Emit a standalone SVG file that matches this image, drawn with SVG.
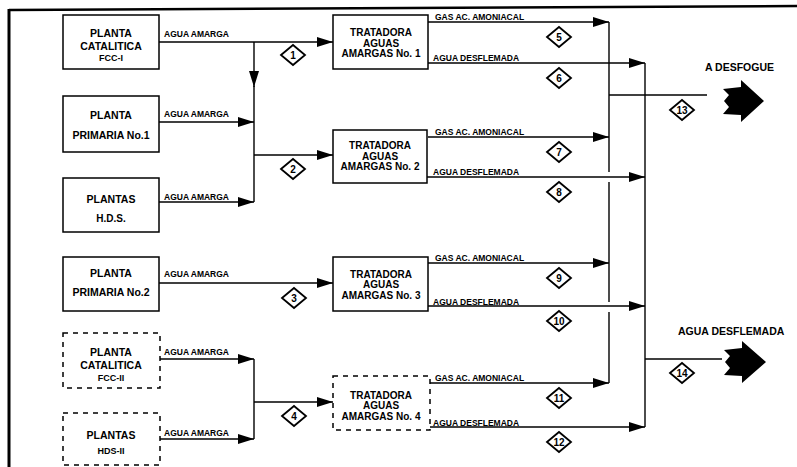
<svg xmlns="http://www.w3.org/2000/svg" width="797" height="467" viewBox="0 0 797 467">
<style>
.box{fill:#fff;stroke:#000;stroke-width:1.5}
.dbox{fill:#fff;stroke:#000;stroke-width:1.5;stroke-dasharray:5 5}
.ln{fill:none;stroke:#000;stroke-width:1.4}
.t{font-family:"Liberation Sans",Arial,sans-serif;font-weight:bold;fill:#000}
.n{font-size:10.5px;text-anchor:middle}
.tn{font-size:10px;text-anchor:middle}
.sm{font-size:9px;text-anchor:middle}
.s{font-size:8.5px}
.big{font-size:10.5px}
.d{fill:#fff;stroke:#000;stroke-width:1.8}
.dn{font-size:10px;text-anchor:middle}
</style>
<defs>
<marker id="ah" markerWidth="16" markerHeight="10" refX="16" refY="5" orient="auto" markerUnits="userSpaceOnUse"><path d="M0,0 L16,5 L0,10 Z" fill="#000"/></marker>
<path id="dia" d="M-12,0 L0,-10 L12,0 L0,10 Z"/>
</defs>
<rect width="797" height="467" fill="#fff"/>
<g id="frame">
<path d="M9,10 L797,6" stroke="#000" stroke-width="2.5" fill="none"/>
<path d="M9,9 L9,467" stroke="#000" stroke-width="3" fill="none"/>
</g>
<g id="connectors" class="ln">
<path d="M159,42 L333,42" marker-end="url(#ah)"/>
<path d="M254,42 L254,87" marker-end="url(#ah)"/>
<path d="M254,86 L254,202"/>
<path d="M159,122 L254,122" marker-end="url(#ah)"/>
<path d="M159,202 L254,202" marker-end="url(#ah)"/>
<path d="M254,155 L333,155" marker-end="url(#ah)"/>
<path d="M159,283 L333,283" marker-end="url(#ah)"/>
<path d="M160,359 L254,359" marker-end="url(#ah)"/>
<path d="M160,439 L254,439" marker-end="url(#ah)"/>
<path d="M254,359 L254,439"/>
<path d="M254,402 L333,402" marker-end="url(#ah)"/>
<path d="M428,22 L609,22" marker-end="url(#ah)"/>
<path d="M428,137 L609,137" marker-end="url(#ah)"/>
<path d="M428,263 L609,263" marker-end="url(#ah)"/>
<path d="M430,383 L609,383" marker-end="url(#ah)"/>
<path d="M428,63 L645,63" marker-end="url(#ah)"/>
<path d="M427,177 L645,177" marker-end="url(#ah)"/>
<path d="M428,306 L645,306" marker-end="url(#ah)"/>
<path d="M430,427 L645,427" marker-end="url(#ah)"/>
<path d="M609,22 L609,172 M609,182 L609,302 M609,312 L609,383"/>
<path d="M645,63 L645,427"/>
<path d="M609,95 L707,95"/>
<path d="M645,359 L722,359"/>
</g>
<g id="n1"><rect class="box" x="63" y="15" width="96" height="54"/>
<text class="t n" x="111" y="37">PLANTA</text><text class="t n" x="111" y="50">CATALITICA</text><text class="t sm" x="111" y="61">FCC-I</text></g>
<g id="n2"><rect class="box" x="63" y="96" width="96" height="56"/>
<text class="t n" x="111" y="119">PLANTA</text><text class="t n" x="111" y="139">PRIMARIA No.1</text></g>
<g id="n3"><rect class="box" x="63" y="178" width="96" height="54"/>
<text class="t n" x="111" y="203">PLANTAS</text><text class="t n" x="111" y="222" style="font-size:10px">H.D.S.</text></g>
<g id="n4"><rect class="box" x="63" y="257" width="96" height="54"/>
<text class="t n" x="111" y="277">PLANTA</text><text class="t n" x="111" y="296">PRIMARIA No.2</text></g>
<g id="n5"><rect class="dbox" x="63" y="333" width="97" height="55"/>
<text class="t n" x="111" y="356">PLANTA</text><text class="t n" x="111" y="369">CATALITICA</text><text class="t sm" x="111" y="381">FCC-II</text></g>
<g id="n6"><rect class="dbox" x="63" y="413" width="97" height="52"/>
<text class="t n" x="111" y="439">PLANTAS</text><text class="t sm" x="111" y="454">HDS-II</text></g>
<g id="t1"><rect class="box" x="333" y="15" width="95" height="54"/>
<text class="t tn" x="381" y="36">TRATADORA</text><text class="t tn" x="381" y="46.5">AGUAS</text><text class="t tn" x="381" y="57">AMARGAS No. 1</text></g>
<g id="t2"><rect class="box" x="333" y="130" width="94" height="53"/>
<text class="t tn" x="380" y="149">TRATADORA</text><text class="t tn" x="380" y="159.5">AGUAS</text><text class="t tn" x="380" y="170">AMARGAS No. 2</text></g>
<g id="t3"><rect class="box" x="333" y="257" width="95" height="54"/>
<text class="t tn" x="381" y="277.5">TRATADORA</text><text class="t tn" x="381" y="288">AGUAS</text><text class="t tn" x="381" y="298.5">AMARGAS No. 3</text></g>
<g id="t4"><rect class="dbox" x="333" y="376" width="97" height="54"/>
<text class="t tn" x="381" y="398.5">TRATADORA</text><text class="t tn" x="381" y="409">AGUAS</text><text class="t tn" x="381" y="419.5">AMARGAS No. 4</text></g>
<g id="labels">
<text class="t s" x="164" y="37">AGUA AMARGA</text>
<text class="t s" x="164" y="117">AGUA AMARGA</text>
<text class="t s" x="164" y="200">AGUA AMARGA</text>
<text class="t s" x="164" y="277">AGUA AMARGA</text>
<text class="t s" x="164" y="355">AGUA AMARGA</text>
<text class="t s" x="164" y="436">AGUA AMARGA</text>
<text class="t s" x="435" y="20">GAS AC. AMONIACAL</text>
<text class="t s" x="433" y="61">AGUA DESFLEMADA</text>
<text class="t s" x="435" y="135">GAS AC. AMONIACAL</text>
<text class="t s" x="433" y="175">AGUA DESFLEMADA</text>
<text class="t s" x="435" y="261">GAS AC. AMONIACAL</text>
<text class="t s" x="433" y="305">AGUA DESFLEMADA</text>
<text class="t s" x="435" y="381">GAS AC. AMONIACAL</text>
<text class="t s" x="433" y="426">AGUA DESFLEMADA</text>
</g>
<g id="diamonds">
<g transform="translate(293,55)"><use href="#dia" class="d"/><text class="t dn" y="3.5">1</text></g>
<g transform="translate(293,169)"><use href="#dia" class="d"/><text class="t dn" y="3.5">2</text></g>
<g transform="translate(294,298)"><use href="#dia" class="d"/><text class="t dn" y="3.5">3</text></g>
<g transform="translate(294,416)"><use href="#dia" class="d"/><text class="t dn" y="3.5">4</text></g>
<g transform="translate(559,37)"><use href="#dia" class="d"/><text class="t dn" y="3.5">5</text></g>
<g transform="translate(559,78)"><use href="#dia" class="d"/><text class="t dn" y="3.5">6</text></g>
<g transform="translate(559,152)"><use href="#dia" class="d"/><text class="t dn" y="3.5">7</text></g>
<g transform="translate(559,192)"><use href="#dia" class="d"/><text class="t dn" y="3.5">8</text></g>
<g transform="translate(559,278)"><use href="#dia" class="d"/><text class="t dn" y="3.5">9</text></g>
<g transform="translate(559,321)"><use href="#dia" class="d"/><text class="t dn" y="3.5">10</text></g>
<g transform="translate(559,398)"><use href="#dia" class="d"/><text class="t dn" y="3.5">11</text></g>
<g transform="translate(559,442)"><use href="#dia" class="d"/><text class="t dn" y="3.5">12</text></g>
<g transform="translate(682,110)"><use href="#dia" class="d"/><text class="t dn" y="3.5">13</text></g>
<g transform="translate(682,373)"><use href="#dia" class="d"/><text class="t dn" y="3.5">14</text></g>
</g>
<g id="out1">
<text class="t big" x="705" y="71">A DESFOGUE</text>
<path d="M723,89 L741,87 L741,80 L764,101 L741,122 L741,115 L723,114 L729,107 L724,101 L729,95 Z" fill="#000"/>
</g>
<g id="out2">
<text class="t big" x="678" y="335">AGUA DESFLEMADA</text>
<path d="M724,350 L742,348 L742,341 L766,362 L742,383 L742,376 L724,375 L730,368 L725,362 L730,356 Z" fill="#000"/>
</g>
</svg>
